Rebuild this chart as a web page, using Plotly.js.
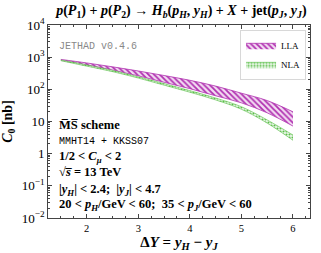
<!DOCTYPE html>
<html><head><meta charset="utf-8">
<script src="https://cdn.plot.ly/plotly-3.0.1.min.js"></script>
<style>html,body{margin:0;padding:0;background:#fff}</style>
</head><body><div id="chart" style="width:321px;height:253px"></div>
<script>
const deltaY = [1.5, 2.0, 2.5, 3.0, 3.5, 4.0, 4.5, 5.0, 5.5, 6.0];
const llaUpper = [851, 661, 501, 372, 269, 191, 126, 75.9, 44.7, 20.0];
const llaLower = [794, 575, 398, 263, 166, 105, 63.1, 38.0, 18.6, 7.2];
const nlaUpper = [813, 575, 389, 245, 151, 91.2, 53.7, 28.8, 11.2, 3.8];
const nlaLower = [776, 525, 355, 224, 135, 81.3, 46.8, 24.0, 8.9, 2.6];
const seriesNames = ["LLA", "NLA"];

const SERIF = "Liberation Serif, DejaVu Serif, serif";
const MONO = "Liberation Mono, DejaVu Sans Mono, monospace";
const mag = "#b030b0", grn = "#5cbf4a";

const traces = [
  {x: deltaY, y: llaLower, mode: "lines", line: {color: mag, width: 0.8, shape: "spline"}, showlegend: false, hoverinfo: "skip"},
  {x: deltaY, y: llaUpper, mode: "lines", name: seriesNames[0], fill: "tonexty", line: {color: mag, width: 0.8, shape: "spline"},
   fillcolor: "rgba(255,255,255,0)", fillpattern: {shape: "\\", fgcolor: mag, bgcolor: "#f3dcf3", size: 4, solidity: 0.45}},
  {x: deltaY, y: nlaLower, mode: "lines", line: {color: grn, width: 0.6, shape: "spline"}, showlegend: false, hoverinfo: "skip"},
  {x: deltaY, y: nlaUpper, mode: "lines", name: seriesNames[1], fill: "tonexty", line: {color: grn, width: 0.6, shape: "spline"},
   fillcolor: "rgba(255,255,255,0)", fillpattern: {shape: ".", fgcolor: grn, bgcolor: "#eef8ec", size: 3, solidity: 0.4}}
];

function ann(text, yp, font) {
  return {text: text, xref: "paper", yref: "paper", x: 0.035, y: yp, xanchor: "left", yanchor: "middle", showarrow: false, font: font};
}
const bf = {family: SERIF, size: 12.5, color: "#000"};
const mf = {family: MONO, size: 10, color: "#000"};

const layout = {
  width: 321, height: 253,
  margin: {l: 48, r: 11, t: 25, b: 35},
  paper_bgcolor: "#fff", plot_bgcolor: "#fff",
  title: {text: "<b><i>p</i>(<i>P</i><sub>1</sub>) + <i>p</i>(<i>P</i><sub>2</sub>) → <i>H<sub>b</sub></i>(<i>p<sub>H</sub></i>, <i>y<sub>H</sub></i>) + <i>X</i> + jet(<i>p<sub>J</sub></i>, <i>y<sub>J</sub></i>)</b>",
    font: {family: SERIF, size: 14, color: "#000"}, x: 0.565, xanchor: "center", y: 0.96, yanchor: "middle"},
  xaxis: {range: [1.25, 6.33], dtick: 1, tick0: 0, ticks: "inside", ticklen: 4, mirror: "allticks",
    showline: true, linecolor: "#444", linewidth: 1.3, showgrid: false, zeroline: false,
    tickfont: {family: SERIF, size: 10.5, color: "#000"},
    minor: {ticks: "inside", ticklen: 2, dtick: 0.25, showgrid: false},
    title: {text: "<b>Δ<i>Y</i> = <i>y<sub>H</sub></i> − <i>y<sub>J</sub></i></b>", font: {family: SERIF, size: 15, color: "#000"}, standoff: 2}},
  yaxis: {type: "log", range: [-2, 4], dtick: 1, exponentformat: "power", ticks: "inside", ticklen: 4, mirror: "allticks",
    showline: true, linecolor: "#444", linewidth: 1.3, showgrid: false, zeroline: false,
    tickfont: {family: SERIF, size: 10.5, color: "#000"},
    minor: {ticks: "inside", ticklen: 2, showgrid: false},
    title: {text: "<b><i>C</i><sub>0</sub> [nb]</b>", font: {family: SERIF, size: 14, color: "#000"}, standoff: 6}},
  legend: {x: 0.985, y: 0.975, xanchor: "right", yanchor: "top", bgcolor: "#fff", bordercolor: "#d8d8d8", borderwidth: 1,
    font: {family: SERIF, size: 9, color: "#000"}, itemwidth: 30, traceorder: "normal", tracegroupgap: 0},
  annotations: [
    ann("JETHAD v0.4.6", 0.89, {family: MONO, size: 10, color: "#888"}),
    ann("<b>M̅S̅ scheme</b>", 0.48, bf),
    ann("MMHT14 + KKSS07", 0.395, mf),
    ann("<b>1/2 &lt; <i>C<sub>μ</sub></i> &lt; 2</b>", 0.315, bf),
    ann("<b>√<i>s̅</i> = 13 TeV</b>", 0.237, bf),
    ann("<b>|<i>y<sub>H</sub></i>| &lt; 2.4;  |<i>y<sub>J</sub></i>| &lt; 4.7</b>", 0.145, bf),
    ann("<b>20 &lt; <i>p<sub>H</sub></i>/GeV &lt; 60;  35 &lt; <i>p<sub>J</sub></i>/GeV &lt; 60</b>", 0.065, bf)
  ]
};
Plotly.newPlot("chart", traces, layout, {displayModeBar: false, staticPlot: true});
</script></body></html>
